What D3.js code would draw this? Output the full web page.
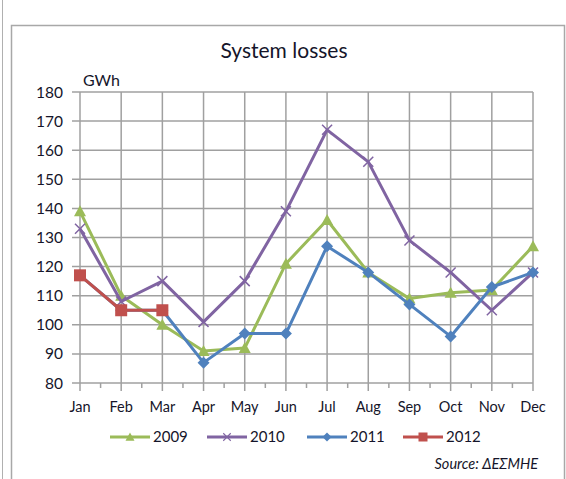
<!DOCTYPE html>
<html>
<head>
<meta charset="utf-8">
<script src="https://cdn.jsdelivr.net/npm/d3@7"></script>
<style>
  html, body { margin: 0; padding: 0; background: #fff; }
  svg { display: block; font-family: Lato, "Open Sans", sans-serif; }
</style>
</head>
<body>
<svg id="chart" width="566" height="479"></svg>
<script>
// data
const months = ["Jan", "Feb", "Mar", "Apr", "May", "Jun", "Jul", "Aug", "Sep", "Oct", "Nov", "Dec"];
const yTicks = [80, 90, 100, 110, 120, 130, 140, 150, 160, 170, 180];
const v2009 = [139, 110, 100, 91, 92, 121, 136, 118, 109, 111, 112, 127];
const v2010 = [133, 108, 115, 101, 115, 139, 167, 156, 129, 118, 105, 118];
const v2011 = [117, 105, 105, 87, 97, 97, 127, 118, 107, 96, 113, 118];
const v2012 = [117, 105, 105];

const series = [
  { name: "2009", values: v2009, color: "#9bbb59", marker: "triangle" },
  { name: "2010", values: v2010, color: "#8064a2", marker: "cross" },
  { name: "2011", values: v2011, color: "#4f81bd", marker: "diamond" },
  { name: "2012", values: v2012, color: "#c0504d", marker: "square" },
];

const textColor = "#15152a";
const svg = d3.select("#chart");
const margin = { top: 92, left: 80 };
const innerW = 453, innerH = 291;

// outer frames
svg.append("line").attr("x1", 2.5).attr("x2", 2.5).attr("y1", 0).attr("y2", 479)
  .attr("stroke", "#b0b0b0").attr("stroke-width", 1);
svg.append("rect").attr("x", 11.5).attr("y", 25.5).attr("width", 553).attr("height", 470)
  .attr("fill", "none").attr("stroke", "#a8a8a8").attr("stroke-width", 1.5);

svg.append("text").attr("x", 284).attr("y", 58).attr("text-anchor", "middle")
  .attr("font-size", 21).attr("fill", textColor).text("System losses");

const x = d3.scalePoint().domain(months).range([0, innerW]);
const y = d3.scaleLinear().domain([80, 180]).range([innerH, 0]);

const g = svg.append("g").attr("transform", `translate(${margin.left},${margin.top})`);

// grid
g.append("g").selectAll("line").data(yTicks).join("line")
  .attr("x1", -8).attr("x2", innerW).attr("y1", (d) => y(d)).attr("y2", (d) => y(d))
  .attr("stroke", "#a0a0a0").attr("stroke-width", 1.5);
g.append("g").selectAll("line").data(months).join("line")
  .attr("x1", (d) => x(d)).attr("x2", (d) => x(d)).attr("y1", 0).attr("y2", innerH + 8)
  .attr("stroke", "#a0a0a0").attr("stroke-width", 1.5);
// minor ticks between months
g.append("g").selectAll("line").data(months.slice(1)).join("line")
  .attr("x1", (d) => x(d) - x.step() / 2).attr("x2", (d) => x(d) - x.step() / 2)
  .attr("y1", innerH).attr("y2", innerH + 5)
  .attr("stroke", "#a0a0a0").attr("stroke-width", 1.5);

// axis labels
g.append("g").selectAll("text").data(yTicks).join("text")
  .attr("x", -17).attr("y", (d) => y(d)).attr("dy", "0.36em").attr("text-anchor", "end")
  .attr("font-size", 15.5).attr("fill", textColor).text((d) => d);
g.append("g").selectAll("text").data(months).join("text")
  .attr("x", (d) => x(d)).attr("y", innerH + 29).attr("text-anchor", "middle")
  .attr("font-size", 14.5).attr("fill", textColor).text((d) => d);
g.append("text").attr("x", 3).attr("y", -6).attr("font-size", 16).attr("fill", textColor).text("GWh");

function drawMarker(sel, kind, color) {
  if (kind === "triangle") {
    sel.append("path").attr("d", "M0,-6L6,5L-6,5Z").attr("fill", color);
  } else if (kind === "diamond") {
    sel.append("path").attr("d", "M0,-6L6,0L0,6L-6,0Z").attr("fill", color);
  } else if (kind === "square") {
    sel.append("rect").attr("x", -6).attr("y", -6).attr("width", 12).attr("height", 12).attr("fill", color);
  } else {
    sel.append("path").attr("d", "M-5,-5L5,5M-5,5L5,-5").attr("stroke", color).attr("stroke-width", 1.5);
  }
}

const line = d3.line().x((d, i) => x(months[i])).y((d) => y(d));

series.forEach((s) => {
  g.append("path").datum(s.values).attr("d", line).attr("fill", "none")
    .attr("stroke", s.color).attr("stroke-width", 3).attr("stroke-linejoin", "round");
  s.values.forEach((v, i) => {
    const m = g.append("g").attr("transform", `translate(${x(months[i])},${y(v)})`);
    drawMarker(m, s.marker, s.color);
  });
});

// legend
const legendX = [110, 207, 307, 403];
const legend = svg.append("g").attr("transform", "translate(0,437)");
series.forEach((s, i) => {
  const lg = legend.append("g").attr("transform", `translate(${legendX[i]},0)`);
  lg.append("line").attr("x1", 0).attr("x2", 40).attr("stroke", s.color).attr("stroke-width", 3);
  const m = lg.append("g").attr("transform", "translate(20,0) scale(0.75)");
  drawMarker(m, s.marker, s.color);
  lg.append("text").attr("x", 43).attr("dy", "0.36em").attr("font-size", 15)
    .attr("fill", textColor).text(s.name);
});

svg.append("text").attr("x", 538).attr("y", 469).attr("text-anchor", "end")
  .attr("font-size", 14.5).attr("font-style", "italic").attr("fill", textColor)
  .text("Source: ΔΕΣΜΗΕ");
</script>
</body>
</html>
